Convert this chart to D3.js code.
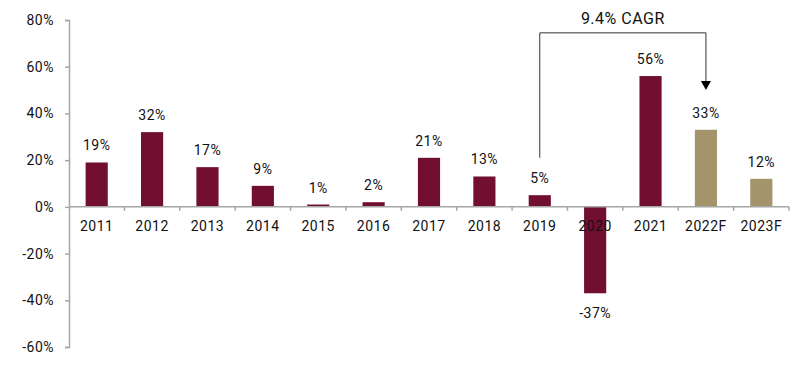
<!DOCTYPE html>
<html>
<head>
<meta charset="utf-8">
<script src="https://cdn.jsdelivr.net/npm/d3@7/dist/d3.min.js"></script>
<style>
  body { margin: 0; background: #fff; }
  svg text { font-family: Roboto, "DejaVu Sans", sans-serif; fill: #111; letter-spacing: 0.5px; }
</style>
</head>
<body>
<svg id="chart" width="800" height="371"></svg>
<script>
// chart data
var years = ["2011", "2012", "2013", "2014", "2015", "2016", "2017", "2018", "2019", "2020", "2021", "2022F", "2023F"];
var growth = [19, 32, 17, 9, 1, 2, 21, 13, 5, -37, 56, 33, 12];
var forecast = [false, false, false, false, false, false, false, false, false, false, false, true, true];
var yTicks = [-60, -40, -20, 0, 20, 40, 60, 80];
// CAGR bracket: from 2019 to 2022F
var cagrLabel = "9.4% CAGR";
var cagrFrom = "2019", cagrTo = "2022F";
var cagrStart = 21, cagrTop = 74.5, cagrEnd = 50;

var svg = d3.select("#chart");
var plotLeft = 69, plotRight = 789, plotTop = 20, plotBottom = 347;

var x = d3.scaleBand().domain(years).range([plotLeft, plotRight]).paddingInner(0.6).paddingOuter(0.3);
var y = d3.scaleLinear().domain([-60, 80]).range([plotBottom, plotTop]);

var axisColor = "#a6a6a6";

// y axis
var yAxis = svg.append("g")
  .attr("transform", "translate(" + plotLeft + ",0)")
  .call(d3.axisLeft(y).tickValues(yTicks).tickSize(4).tickPadding(11).tickFormat(function (d) { return d + "%"; }));
yAxis.select(".domain").attr("stroke", axisColor).attr("stroke-width", 1.5);
yAxis.selectAll(".tick line").attr("stroke", axisColor).attr("stroke-width", 1.5);
yAxis.selectAll("text").style("font-size", "14px").attr("fill", "#111").style("font-family", null);

// bars
var data = years.map(function (yr, i) { return { year: yr, v: growth[i], f: forecast[i] }; });

svg.selectAll(".bar")
  .data(data)
  .join("rect")
  .attr("class", "bar")
  .attr("x", function (d) { return x(d.year); })
  .attr("width", x.bandwidth())
  .attr("y", function (d) { return y(Math.max(0, d.v)); })
  .attr("height", function (d) { return Math.abs(y(d.v) - y(0)); })
  .attr("fill", function (d) { return d.f ? "#a3946b" : "#720f30"; });

// x axis at zero
var step = x.step();
var xg = svg.append("g").attr("transform", "translate(0," + y(0) + ")");
xg.append("line").attr("x1", plotLeft).attr("x2", plotRight).attr("stroke", axisColor).attr("stroke-width", 1.5);
xg.selectAll(".xt")
  .data(years)
  .join("line")
  .attr("class", "xt")
  .attr("x1", function (d) { return x(d) + x.bandwidth() / 2 + step / 2; })
  .attr("x2", function (d) { return x(d) + x.bandwidth() / 2 + step / 2; })
  .attr("y1", 0).attr("y2", 4)
  .attr("stroke", axisColor).attr("stroke-width", 1.5);
xg.selectAll(".xl")
  .data(years)
  .join("text")
  .attr("class", "xl")
  .attr("x", function (d) { return x(d) + x.bandwidth() / 2; })
  .attr("y", 24)
  .attr("text-anchor", "middle")
  .style("font-size", "14px")
  .text(function (d) { return d; });

// value labels
svg.selectAll(".vl")
  .data(data)
  .join("text")
  .attr("class", "vl")
  .attr("x", function (d) { return x(d.year) + x.bandwidth() / 2; })
  .attr("y", function (d) { return d.v >= 0 ? y(d.v) - 12 : y(d.v) + 25; })
  .attr("text-anchor", "middle")
  .style("font-size", "14px")
  .text(function (d) { return d.v + "%"; });

// CAGR bracket
var x1 = x(cagrFrom) + x.bandwidth() / 2, x2 = x(cagrTo) + x.bandwidth() / 2;
svg.append("path")
  .attr("d", "M" + x1 + "," + y(cagrStart) + "V" + y(cagrTop) + "H" + x2 + "V" + (y(cagrEnd) - 9))
  .attr("fill", "none").attr("stroke", "#333").attr("stroke-width", 1);
svg.append("path")
  .attr("d", "M" + (x2 - 5) + "," + (y(cagrEnd) - 9) + "L" + (x2 + 5) + "," + (y(cagrEnd) - 9) + "L" + x2 + "," + y(cagrEnd) + "Z")
  .attr("fill", "#000");
svg.append("text")
  .attr("x", (x1 + x2) / 2)
  .attr("y", y(cagrTop) - 9)
  .attr("text-anchor", "middle")
  .style("font-size", "16px")
  .text(cagrLabel);
</script>
</body>
</html>
